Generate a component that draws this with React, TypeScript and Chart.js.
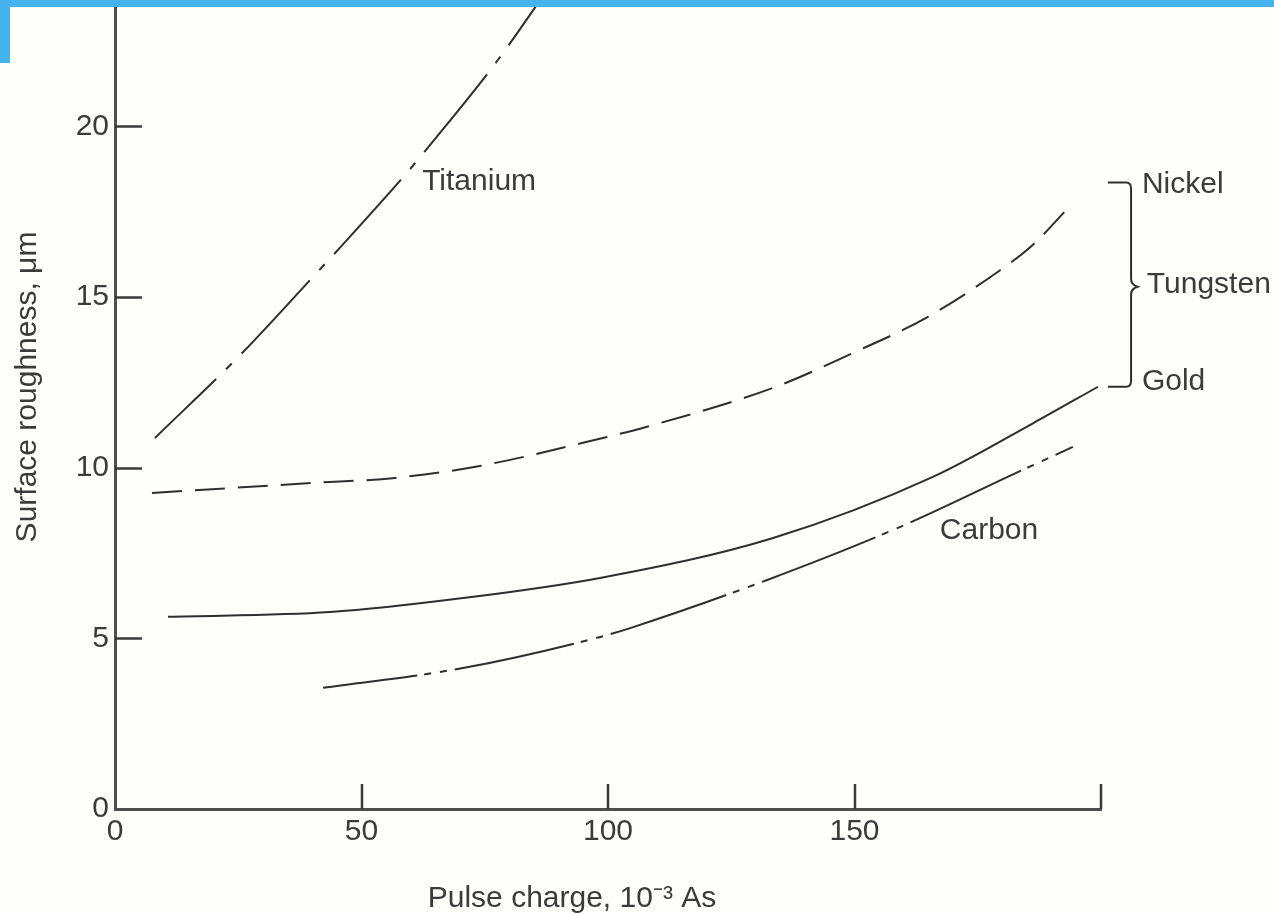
import React, { useEffect, useRef } from 'react';
import { Chart, registerables } from 'chart.js';

Chart.register(...registerables);

// ---- data ----
const titaniumX = [8.1, 26, 39.6, 45.6, 59.4, 64.3, 77.7, 87.7];
const titaniumY = [10.87, 13.39, 15.5, 16.44, 18.67, 19.52, 21.95, 24.0];

const nickelX = [7.5, 40, 56.8, 74, 99.8, 107.9, 133.5, 149.7, 164.9, 179.1, 186.2, 194.3];
const nickelY = [9.26, 9.55, 9.7, 10.05, 10.9, 11.2, 12.34, 13.36, 14.42, 15.74, 16.53, 17.76];

const goldX = [10.75, 43.6, 70.6, 98.4, 133.5, 165.9, 186.2, 199.4];
const goldY = [5.63, 5.77, 6.18, 6.77, 7.94, 9.73, 11.3, 12.37];

const carbonX = [42.2, 70.6, 98.4, 104.5, 132.3, 159.2, 184.2, 194.3];
const carbonY = [3.55, 4.13, 5.04, 5.3, 6.71, 8.26, 9.94, 10.61];

const xTickLabels = [0, 50, 100, 150];
const xTickMarks = [50, 100, 150, 200];
const yTickLabels = [0, 5, 10, 15, 20];
const yTickMarks = [5, 10, 15, 20];

const xTitle = 'Pulse charge, 10\u207B\u00B3 As';
const yTitle = 'Surface roughness, \u03BCm';

const labelNames = ['Titanium', 'Carbon', 'Nickel', 'Tungsten', 'Gold'];
const labelX = [62.3, 167.3, 208.3, 209.3, 208.3];
const labelY = [18.37, 8.15, 18.28, 15.35, 12.51];

const bracketYs = [18.35, 15.3, 12.37];
const bracketXs = [201.4, 206.1, 207.4];

const FONT = "30px 'Liberation Sans', Arial, sans-serif";
const INK = '#2e2e2e';
const TEXT = '#3b3b3b';

const zip = (xs: number[], ys: number[]) => xs.map((x, i) => ({ x, y: ys[i] }));

const decorPlugin = {
  id: 'decor',
  beforeDraw(chart: any) {
    const { ctx, width, height } = chart;
    ctx.save();
    ctx.fillStyle = '#fefefb';
    ctx.fillRect(0, 0, width, height);
    ctx.restore();
  },
  afterDraw(chart: any) {
    const { ctx } = chart;
    const xs = chart.scales.x;
    const ys = chart.scales.y;
    const left = chart.chartArea.left;
    const bottom = chart.chartArea.bottom;
    ctx.save();
    // tick marks drawn inward
    ctx.strokeStyle = '#3a3a3a';
    ctx.lineWidth = 2.5;
    yTickMarks.forEach((v) => {
      const py = Math.round(ys.getPixelForValue(v)) + 0.5;
      ctx.beginPath();
      ctx.moveTo(left, py);
      ctx.lineTo(left + 27, py);
      ctx.stroke();
    });
    xTickMarks.forEach((v) => {
      const px = Math.round(xs.getPixelForValue(v));
      ctx.beginPath();
      ctx.moveTo(px, bottom);
      ctx.lineTo(px, bottom - 25);
      ctx.stroke();
    });

    // series labels
    ctx.fillStyle = TEXT;
    ctx.font = FONT;
    ctx.textBaseline = 'middle';
    ctx.textAlign = 'left';
    labelNames.forEach((t, i) => {
      ctx.fillText(t, xs.getPixelForValue(labelX[i]), ys.getPixelForValue(labelY[i]));
    });

    // brace grouping Nickel / Tungsten / Gold
    const x0 = xs.getPixelForValue(bracketXs[0]);
    const x1 = xs.getPixelForValue(bracketXs[1]);
    const x2 = xs.getPixelForValue(bracketXs[2]);
    const yT = ys.getPixelForValue(bracketYs[0]);
    const yM = ys.getPixelForValue(bracketYs[1]);
    const yB = ys.getPixelForValue(bracketYs[2]);
    ctx.strokeStyle = INK;
    ctx.lineWidth = 2;
    ctx.beginPath();
    ctx.moveTo(x0, yT);
    ctx.lineTo(x1 - 5, yT);
    ctx.quadraticCurveTo(x1, yT, x1, yT + 6);
    ctx.lineTo(x1, yM - 8);
    ctx.quadraticCurveTo(x1, yM - 2, x2, yM);
    ctx.quadraticCurveTo(x1, yM + 2, x1, yM + 8);
    ctx.lineTo(x1, yB - 6);
    ctx.quadraticCurveTo(x1, yB, x1 - 5, yB);
    ctx.lineTo(x0, yB);
    ctx.stroke();

    // axis titles
    ctx.fillStyle = TEXT;
    ctx.textAlign = 'center';
    ctx.textBaseline = 'middle';
    ctx.fillText(xTitle, 572, 899);
    ctx.translate(28, 387);
    ctx.rotate(-Math.PI / 2);
    ctx.fillText(yTitle, 0, 0);
    ctx.restore();

    // blue frame of the scan
    ctx.save();
    ctx.fillStyle = '#45b4ee';
    ctx.fillRect(0, 0, chart.width, 7);
    ctx.fillRect(0, 0, 10, 63);
    ctx.restore();
  },
};

export default function App() {
  const ref = useRef<HTMLCanvasElement | null>(null);

  useEffect(() => {
    document.body.style.margin = '0';
    const canvas = ref.current;
    if (!canvas) return;
    const common = {
      borderColor: INK,
      borderWidth: 2,
      pointRadius: 0,
      fill: false,
      cubicInterpolationMode: 'monotone' as const,
    };
    const chart = new Chart(canvas, {
      type: 'line',
      data: {
        datasets: [
          { ...common, label: 'Titanium', data: zip(titaniumX, titaniumY), borderDash: [100, 14, 8, 14], borderDashOffset: 15 },
          { ...common, label: 'Nickel / Tungsten', data: zip(nickelX, nickelY), borderDash: [30, 13] },
          { ...common, label: 'Gold', data: zip(goldX, goldY) },
          { ...common, label: 'Carbon', data: zip(carbonX, carbonY), borderDash: [122, 7, 7, 9, 7, 8], borderDashOffset: 27 },
        ],
      },
      options: {
        responsive: false,
        animation: false,
        layout: { padding: { left: 0, top: 0, right: 173, bottom: 0 } },
        plugins: { legend: { display: false }, tooltip: { enabled: false } },
        scales: {
          x: {
            type: 'linear',
            min: 0,
            max: 200,
            grid: { display: false, drawTicks: false },
            border: { display: true, color: '#4e4e4e', width: 3 },
            ticks: { color: TEXT, font: { family: "'Liberation Sans', Arial, sans-serif", size: 30 }, padding: 5, maxRotation: 0 },
            afterBuildTicks: (s: any) => { s.ticks = xTickLabels.map((v) => ({ value: v })); },
            afterFit: (s: any) => { s.height = 106; s.paddingLeft = 0; s.paddingRight = 0; },
          },
          y: {
            type: 'linear',
            min: 0,
            max: 23.7,
            grid: { display: false, drawTicks: false },
            border: { display: true, color: '#4e4e4e', width: 3 },
            ticks: { color: TEXT, font: { family: "'Liberation Sans', Arial, sans-serif", size: 30 }, padding: 6 },
            afterBuildTicks: (s: any) => { s.ticks = yTickLabels.map((v) => ({ value: v })); },
            afterFit: (s: any) => { s.width = 115; s.paddingTop = 0; s.paddingBottom = 0; },
          },
        },
      },
      plugins: [decorPlugin],
    });
    return () => chart.destroy();
  }, []);

  return (
    <div style={{ width: 1274, height: 915, background: '#fefefb' }}>
      <canvas ref={ref} width={1274} height={915} style={{ display: 'block' }} />
    </div>
  );
}
